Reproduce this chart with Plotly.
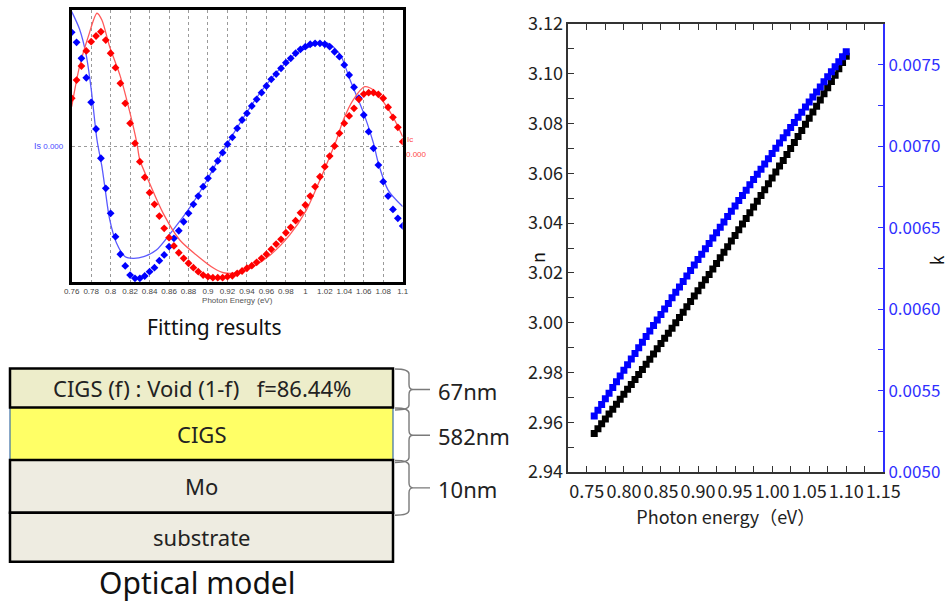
import plotly.graph_objects as go

# ---------------------------------------------------------------------------
# Data
# ---------------------------------------------------------------------------

# Photon energy grid (eV) shared by the measured spectra and the n/k result
ENERGY = [0.760, 0.765, 0.770, 0.775, 0.780, 0.785, 0.790, 0.795, 0.800, 0.805,
          0.810, 0.815, 0.820, 0.825, 0.830, 0.835, 0.840, 0.845, 0.850, 0.855,
          0.860, 0.865, 0.870, 0.875, 0.880, 0.885, 0.890, 0.895, 0.900, 0.905,
          0.910, 0.915, 0.920, 0.925, 0.930, 0.935, 0.940, 0.945, 0.950, 0.955,
          0.960, 0.965, 0.970, 0.975, 0.980, 0.985, 0.990, 0.995, 1.000, 1.005,
          1.010, 1.015, 1.020, 1.025, 1.030, 1.035, 1.040, 1.045, 1.050, 1.055,
          1.060, 1.065, 1.070, 1.075, 1.080, 1.085, 1.090, 1.095, 1.100]

# Measured ellipsometric intensities Is and Ic (normalised units)
IS_MEASURED = [0.836, 0.762, 0.645, 0.502, 0.321, 0.125, -0.090, -0.311, -0.495, -0.667,
               -0.796, -0.882, -0.949, -0.973, -0.973, -0.956, -0.924, -0.895, -0.843, -0.801,
               -0.740, -0.679, -0.623, -0.557, -0.495, -0.429, -0.368, -0.299, -0.238, -0.171,
               -0.110, -0.049, 0.013, 0.064, 0.130, 0.191, 0.240, 0.294, 0.343, 0.392,
               0.441, 0.490, 0.529, 0.571, 0.613, 0.645, 0.682, 0.711, 0.730, 0.748,
               0.755, 0.755, 0.748, 0.730, 0.693, 0.657, 0.596, 0.522, 0.432, 0.351,
               0.228, 0.105, -0.017, -0.140, -0.262, -0.368, -0.466, -0.532, -0.588]

IC_MEASURED = [0.351, 0.485, 0.588, 0.699, 0.767, 0.809, 0.840, 0.779, 0.682, 0.576,
               0.461, 0.314, 0.167, 0.020, -0.115, -0.230, -0.343, -0.429, -0.515, -0.605,
               -0.674, -0.735, -0.785, -0.826, -0.862, -0.895, -0.924, -0.949, -0.961, -0.968,
               -0.968, -0.968, -0.961, -0.954, -0.936, -0.919, -0.899, -0.880, -0.855, -0.826,
               -0.796, -0.760, -0.721, -0.686, -0.638, -0.598, -0.549, -0.491, -0.434, -0.368,
               -0.299, -0.226, -0.152, -0.074, 0.000, 0.093, 0.167, 0.221, 0.277, 0.343,
               0.382, 0.392, 0.392, 0.380, 0.351, 0.285, 0.211, 0.137, 0.032]

# Model (fitted) curves
IS_FIT_ENERGY = [0.760, 0.768, 0.775, 0.780, 0.786, 0.791, 0.794, 0.799, 0.806, 0.815,
                 0.823, 0.834, 0.847, 0.864, 0.882, 0.899, 0.919, 0.957, 0.991, 1.018,
                 1.025, 1.036, 1.046, 1.060, 1.070, 1.075, 1.085, 1.100]
IS_FIT = [0.988, 0.860, 0.665, 0.420, 0.044, -0.150, -0.299, -0.540, -0.713, -0.814,
          -0.826, -0.814, -0.765, -0.618, -0.446, -0.250, 0.007, 0.424, 0.682, 0.760,
          0.750, 0.669, 0.485, 0.240, 0.020, -0.127, -0.324, -0.445]

IC_FIT_ENERGY = [0.760, 0.768, 0.777, 0.786, 0.791, 0.799, 0.810, 0.820, 0.827, 0.830,
                 0.840, 0.854, 0.871, 0.888, 0.906, 0.916, 0.930, 0.943, 0.964, 0.984,
                 1.001, 1.015, 1.025, 1.032, 1.039, 1.049, 1.061, 1.070, 1.080, 1.090,
                 1.100]
IC_FIT = [0.289, 0.583, 0.804, 0.976, 0.926, 0.730, 0.510, 0.240, 0.020, -0.103,
          -0.274, -0.495, -0.691, -0.801, -0.899, -0.932, -0.932, -0.899, -0.801, -0.654,
          -0.471, -0.250, -0.079, 0.044, 0.191, 0.338, 0.436, 0.412, 0.326, 0.215,
          0.068]

FIT_TICKS = [0.76, 0.78, 0.80, 0.82, 0.84, 0.86, 0.88, 0.90, 0.92, 0.94,
             0.96, 0.98, 1.00, 1.02, 1.04, 1.06, 1.08, 1.10]
FIT_TICK_TEXT = ["0.76", "0.78", "0.8", "0.82", "0.84", "0.86", "0.88", "0.9", "0.92", "0.94",
                 "0.96", "0.98", "1", "1.02", "1.04", "1.06", "1.08", "1.1"]

# Optical constants of the CIGS layer
N_INDEX = [2.9555, 2.9574, 2.9594, 2.9613, 2.9633, 2.9652, 2.9672, 2.9692, 2.9712, 2.9732,
           2.9752, 2.9772, 2.9792, 2.9812, 2.9833, 2.9853, 2.9874, 2.9895, 2.9916, 2.9937,
           2.9957, 2.9978, 3.0000, 3.0021, 3.0042, 3.0064, 3.0085, 3.0107, 3.0128, 3.0150,
           3.0172, 3.0194, 3.0216, 3.0238, 3.0261, 3.0283, 3.0305, 3.0328, 3.0350, 3.0373,
           3.0396, 3.0419, 3.0442, 3.0465, 3.0488, 3.0511, 3.0534, 3.0558, 3.0581, 3.0605,
           3.0629, 3.0652, 3.0676, 3.0700, 3.0724, 3.0748, 3.0772, 3.0797, 3.0821, 3.0846,
           3.0870, 3.0895, 3.0920, 3.0944, 3.0969, 3.0994, 3.1020, 3.1045, 3.1070]

K_INDEX = [0.005344, 0.005379, 0.005414, 0.005449, 0.005484, 0.005519, 0.005554, 0.005589, 0.005624, 0.005658,
           0.005693, 0.005728, 0.005762, 0.005796, 0.005831, 0.005865, 0.005899, 0.005933, 0.005967, 0.006001,
           0.006035, 0.006069, 0.006103, 0.006136, 0.006170, 0.006203, 0.006237, 0.006270, 0.006304, 0.006337,
           0.006370, 0.006403, 0.006436, 0.006469, 0.006502, 0.006535, 0.006568, 0.006600, 0.006633, 0.006666,
           0.006698, 0.006730, 0.006763, 0.006795, 0.006827, 0.006859, 0.006891, 0.006923, 0.006955, 0.006987,
           0.007019, 0.007051, 0.007082, 0.007114, 0.007145, 0.007177, 0.007208, 0.007240, 0.007271, 0.007302,
           0.007333, 0.007364, 0.007395, 0.007426, 0.007457, 0.007487, 0.007518, 0.007549, 0.007579]

# Optical model (top to bottom)
VOID_FRACTION = 86.44
LAYER_NAMES = ["CIGS (f) : Void (1-f)\u00a0\u00a0\u00a0f=%.2f%%" % VOID_FRACTION,
               "CIGS", "Mo", "substrate"]
LAYER_THICKNESS = ["67nm", "582nm", "10nm", None]

# ---------------------------------------------------------------------------
# Styling
# ---------------------------------------------------------------------------
W, H = 951, 602
SANS = "Liberation Sans"
JP = "Noto Sans CJK JP"
TEXT = "Noto Sans"
BLUE = "#0000ff"
RED = "#ff0000"
K_BLUE = "#2f2fff"

LAYER_FILLS = ["#ededca", "#ffff66", "#eeece1", "#eeece1"]
LAYER_LINES = [("black", 2.5), ("#3b6ea5", 1.2), ("black", 2.5), ("black", 2.5)]
# diagram units: y measured downward from the top of the diagram panel
LAYER_EDGES = [8.5, 47.5, 100.0, 152.7, 201.7]
BOX_X = (10, 393)


def px_x(p):
    return p / W


def px_y(p):
    return 1 - p / H


def label(**kw):
    base = dict(showarrow=False, xanchor="center", yanchor="middle")
    base.update(kw)
    return base


fig = go.Figure()

# ---- Fitting results ----
fig.add_trace(go.Scatter(x=IS_FIT_ENERGY, y=IS_FIT, mode="lines",
                         line=dict(color="#5a5aff", width=1.3, shape="spline", smoothing=0.8),
                         xaxis="x", yaxis="y"))
fig.add_trace(go.Scatter(x=IC_FIT_ENERGY, y=IC_FIT, mode="lines",
                         line=dict(color="#ff5a5a", width=1.3, shape="spline", smoothing=0.8),
                         xaxis="x", yaxis="y"))
fig.add_trace(go.Scatter(x=ENERGY, y=IS_MEASURED, mode="markers",
                         marker=dict(symbol="diamond", size=6, color=BLUE),
                         xaxis="x", yaxis="y"))
fig.add_trace(go.Scatter(x=ENERGY, y=IC_MEASURED, mode="markers",
                         marker=dict(symbol="diamond", size=6, color=RED),
                         xaxis="x", yaxis="y"))

# ---- n and k ----
fig.add_trace(go.Scatter(x=ENERGY, y=N_INDEX, mode="markers",
                         marker=dict(symbol="square", size=7, color="black"),
                         xaxis="x2", yaxis="y2"))
fig.add_trace(go.Scatter(x=ENERGY, y=K_INDEX, mode="markers",
                         marker=dict(symbol="square", size=7, color=BLUE),
                         xaxis="x2", yaxis="y3"))

# ---- Optical model: layer stack drawn on a hidden axis pair (x4 / y4) ----
shapes = []
annotations = []
for i in [1, 0, 2, 3]:
    col, lw = LAYER_LINES[i]
    shapes.append(dict(type="rect", xref="x4", yref="y4",
                       x0=BOX_X[0], x1=BOX_X[1], y0=LAYER_EDGES[i], y1=LAYER_EDGES[i + 1],
                       fillcolor=LAYER_FILLS[i], line=dict(color=col, width=lw), layer="above"))
for i, name in enumerate(LAYER_NAMES):
    mid = (LAYER_EDGES[i] + LAYER_EDGES[i + 1]) / 2
    annotations.append(label(xref="x4", yref="y4", x=(BOX_X[0] + BOX_X[1]) / 2, y=mid,
                             text=name, font=dict(family=TEXT, size=22, color="#222")))
    thick = LAYER_THICKNESS[i]
    if thick:
        y0, y1 = LAYER_EDGES[i] + 0.5, LAYER_EDGES[i + 1] + 2.5
        ym = (y0 + y1) / 2
        xa, xb, xc = 395, 409, 413
        r = 5
        brace = (f"M {xa},{y0} Q {xb},{y0} {xb},{y0 + r} L {xb},{ym - r} "
                 f"Q {xb},{ym} {xc},{ym} Q {xb},{ym} {xb},{ym + r} "
                 f"L {xb},{y1 - r} Q {xb},{y1} {xa},{y1} M {xc},{ym} L 430,{ym}")
        shapes.append(dict(type="path", xref="x4", yref="y4", path=brace,
                           line=dict(color="#7a7a7a", width=1.4)))
        annotations.append(label(xref="x4", yref="y4", x=436, y=ym + 1, text=thick,
                                 xanchor="left",
                                 font=dict(family=TEXT, size=22, color="#222")))

annotations.append(label(xref="x4", yref="y4", x=197, y=222, text="Optical model",
                         font=dict(family=TEXT, size=30, color="#111")))
annotations.append(label(xref="paper", yref="paper", x=px_x(214), y=px_y(327),
                         text="Fitting results",
                         font=dict(family=TEXT, size=21, color="#111")))

# labels of the zero lines of the Is / Ic scales
annotations.append(label(xref="paper", yref="y", x=px_x(66), y=0, xanchor="right",
                         text="<span style='font-size:9px'>Is</span> 0.000",
                         font=dict(family=SANS, size=8, color="#4a4aff")))
annotations.append(label(xref="paper", yref="paper", x=px_x(410), y=px_y(140),
                         text="Ic", font=dict(family=SANS, size=8, color="#ff4a4a")))
annotations.append(label(xref="paper", yref="paper", x=px_x(404), y=px_y(154),
                         xanchor="left", text="0.000",
                         font=dict(family=SANS, size=8, color="#ff4a4a")))

# axis titles of the n / k plot
annotations.append(label(xref="paper", yref="paper", x=px_x(537), y=px_y(258),
                         text="n", textangle=-90,
                         font=dict(family=JP, size=18, color="#111")))
annotations.append(label(xref="paper", yref="paper", x=px_x(937), y=px_y(260),
                         text="k", textangle=-90,
                         font=dict(family=JP, size=17, color="#111")))

grid_grey = "#9a9a9a"
fig.update_layout(
    width=W, height=H, margin=dict(l=0, r=0, t=0, b=0, autoexpand=False),
    paper_bgcolor="white", plot_bgcolor="white", showlegend=False,
    shapes=shapes, annotations=annotations,
    xaxis=dict(domain=[px_x(71.7), px_x(402.7)], anchor="y", range=[0.76, 1.10],
               tickvals=FIT_TICKS, ticktext=FIT_TICK_TEXT, ticks="",
               tickfont=dict(family=SANS, size=8, color="#444"),
               showgrid=True, gridcolor=grid_grey, griddash="dot", gridwidth=1,
               showline=True, linecolor="black", linewidth=2.5, mirror=True, zeroline=False,
               title=dict(text="Photon Energy (eV)", standoff=2,
                          font=dict(family=SANS, size=8, color="#555"))),
    yaxis=dict(domain=[px_y(282), px_y(10)], anchor="x", range=[-1, 1],
               tickvals=[0], showticklabels=False, ticks="",
               showgrid=True, gridcolor=grid_grey, griddash="dot", gridwidth=1,
               showline=True, linecolor="black", linewidth=2.5, mirror=True, zeroline=False),
    xaxis2=dict(domain=[px_x(568.3), px_x(883.3)], anchor="y2", range=[0.725, 1.15],
                tick0=0.75, dtick=0.05, tickformat=".2f",
                ticks="inside", ticklen=6, tickwidth=1.2, tickcolor="#333",
                minor=dict(tick0=0.75, dtick=0.025, ticks="inside", ticklen=6,
                           tickwidth=1.2, tickcolor="#333"),
                showline=True, linecolor="#333", linewidth=1.5, mirror="ticks",
                showgrid=False, zeroline=False, ticklabelstandoff=3,
                tickfont=dict(family=JP, size=18, color="#222"),
                title=dict(text="Photon energy\uff08eV\uff09", standoff=6,
                           font=dict(family=JP, size=18, color="#222"))),
    yaxis2=dict(domain=[px_y(472), px_y(24)], anchor="x2", range=[2.94, 3.12],
                tick0=2.94, dtick=0.02, tickformat=".2f",
                ticks="inside", ticklen=6, tickwidth=1.2, tickcolor="#333",
                minor=dict(dtick=0.01, ticks="inside", ticklen=6,
                           tickwidth=1.2, tickcolor="#333"),
                showline=True, linecolor="#333", linewidth=1.5,
                showgrid=False, zeroline=False,
                tickfont=dict(family=JP, size=18, color="#222")),
    yaxis3=dict(overlaying="y2", anchor="x2", side="right", range=[0.0050, 0.00775],
                tick0=0.005, dtick=0.0005, tickformat=".4f",
                ticks="inside", ticklen=6, tickwidth=1.2, tickcolor=K_BLUE,
                minor=dict(dtick=0.00025, ticks="inside", ticklen=6,
                           tickwidth=1.2, tickcolor=K_BLUE),
                showline=True, linecolor=K_BLUE, linewidth=1.5,
                showgrid=False, zeroline=False,
                tickfont=dict(family=JP, size=17, color=K_BLUE)),
    xaxis4=dict(domain=[0, px_x(520)], anchor="y4", range=[0, 520], visible=False),
    yaxis4=dict(domain=[0, px_y(360)], anchor="x4", range=[242, 0], visible=False),
)

fig.write_html(
    "out.html",
    config={"responsive": False},
    post_script="document.body.style.margin='0';"
                "document.documentElement.style.overflow='hidden';",
)
